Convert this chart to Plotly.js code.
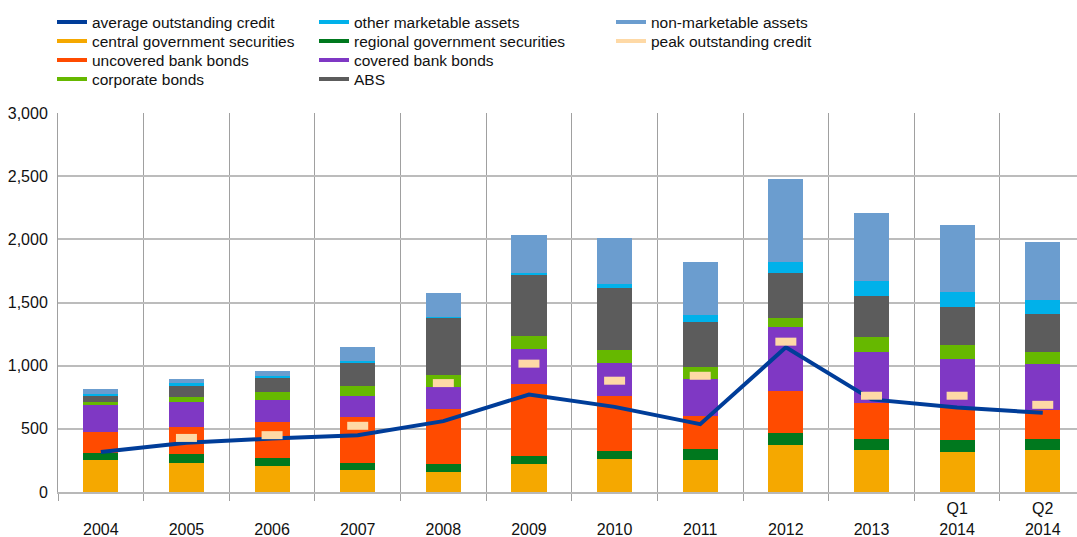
<!DOCTYPE html>
<html>
<head>
<meta charset="utf-8">
<script src="https://cdn.plot.ly/plotly-3.0.1.min.js"></script>
<style>
  html, body { margin: 0; padding: 0; background: #fff; overflow: hidden; }
  #chart { width: 1077px; height: 537px; }
</style>
</head>
<body>
<div id="chart"></div>
<script>
// ---- data (EUR billions) ----
const categories = ['2004','2005','2006','2007','2008','2009','2010','2011','2012','2013','Q1 2014','Q2 2014'];
const tickLabels = ['2004','2005','2006','2007','2008','2009','2010','2011','2012','2013','Q1<br>2014','Q2<br>2014'];

const centralGov   = [251, 227, 204, 172, 156, 220, 259, 251, 370, 331, 315, 331];
const regionalGov  = [ 58,  72,  63,  55,  64,  63,  64,  88,  96,  87,  95,  87];
const uncoveredBB  = [164, 214, 286, 365, 436, 571, 436, 261, 333, 286, 262, 230];
const coveredBB    = [215, 201, 174, 167, 175, 278, 262, 294, 508, 404, 381, 365];
const corporate    = [ 23,  37,  64,  79,  95, 103, 103,  95,  71, 119, 111,  95];
const absValues    = [ 48,  87, 114, 183, 452, 484, 492, 357, 357, 326, 301, 302];
const otherMkt     = [ 16,  24,  15,  16,   8,  13,  32,  56,  87, 119, 119, 111];
const nonMkt       = [ 40,  32,  37, 111, 190, 305, 365, 420, 659, 539, 532, 460];
const avgCredit    = [317, 389, 423, 450, 561, 772, 674, 537, 1145, 733, 669, 627];
const peakCredit   = [null, 428, 450, 524, 862, 1016, 881, 920, 1190, 762, 762, 690];

const yTicks = [0, 500, 1000, 1500, 2000, 2500, 3000];

// ---- styles ----
const C = {
  avg: '#003d99', central: '#f5a800', regional: '#00781e', uncovered: '#ff4b00',
  covered: '#7f38c4', corporate: '#66b800', abs: '#5c5c5c', other: '#00b1ea',
  nonmkt: '#6b9dcf', peak: '#fed9a6'
};
const FONT = 'Liberation Sans, Arial, sans-serif';

const barSeries = [
  ['central government securities', centralGov, C.central],
  ['regional government securities', regionalGov, C.regional],
  ['uncovered bank bonds', uncoveredBB, C.uncovered],
  ['covered bank bonds', coveredBB, C.covered],
  ['corporate bonds', corporate, C.corporate],
  ['ABS', absValues, C.abs],
  ['other marketable assets', otherMkt, C.other],
  ['non-marketable assets', nonMkt, C.nonmkt]
];

const traces = barSeries.map(([name, vals, col]) => ({
  type: 'bar', name, x: categories, y: vals,
  marker: {color: col, line: {width: 0}}, showlegend: false, hoverinfo: 'skip'
}));

traces.push({
  type: 'scatter', mode: 'lines', name: 'average outstanding credit',
  x: categories, y: avgCredit, line: {color: C.avg, width: 4}, showlegend: false
});
traces.push({
  type: 'scatter', mode: 'markers', name: 'peak outstanding credit',
  x: categories, y: peakCredit, showlegend: false,
  marker: {symbol: 'line-ew', size: 15, color: C.peak, line: {color: C.peak, width: 8}}
});

// legend entries (line-style keys), placed in three columns
const legendItems = [
  ['average outstanding credit', C.avg, 0, 0],
  ['central government securities', C.central, 0, 1],
  ['uncovered bank bonds', C.uncovered, 0, 2],
  ['corporate bonds', C.corporate, 0, 3],
  ['other marketable assets', C.other, 1, 0],
  ['regional government securities', C.regional, 1, 1],
  ['covered bank bonds', C.covered, 1, 2],
  ['ABS', C.abs, 1, 3],
  ['non-marketable assets', C.nonmkt, 2, 0],
  ['peak outstanding credit', C.peak, 2, 1]
];
const colX = [57, 319, 616];
const rowY = [22, 41, 60, 79];
const W = 1077, H = 537;

const layout = {
  width: W, height: H,
  margin: {l: 58, r: 0, t: 113, b: 45, pad: 0, autoexpand: false},
  paper_bgcolor: '#fff', plot_bgcolor: '#fff',
  font: {family: FONT, size: 16, color: '#111'},
  barmode: 'stack', bargap: 0.59,
  showlegend: true,
  xaxis: {
    type: 'category', range: [-0.5, 11.4], automargin: false,
    tickmode: 'array', tickvals: categories,
    ticktext: tickLabels.map(t => t.includes('<br>') ? t : '\u00a0<br>' + t),
    tickson: 'boundaries', ticks: 'outside', ticklen: 7, tickcolor: '#a0a0a0', tickwidth: 1,
    showgrid: true, gridcolor: '#a0a0a0', gridwidth: 1,
    showline: true, linecolor: '#b8b8b8', linewidth: 2,
    tickfont: {family: FONT, size: 16, color: '#111'},
    ticklabelstandoff: 1, fixedrange: true
  },
  yaxis: {
    range: [0, 3000], tickmode: 'array', tickvals: yTicks, automargin: false,
    ticktext: yTicks.map(v => v.toLocaleString('en-US')),
    showgrid: true, gridcolor: '#bcbcbc', gridwidth: 2, zeroline: false,
    showline: true, linecolor: '#a0a0a0', linewidth: 1,
    ticks: '', tickfont: {family: FONT, size: 16, color: '#111'},
    ticklabelstandoff: 6, fixedrange: true
  }
};

legendItems.forEach(([name, col, c, r], i) => {
  const key = i === 0 ? 'legend' : 'legend' + (i + 1);
  traces.push({
    type: 'scatter', mode: 'lines', name, x: [categories[0]], y: [null],
    line: {color: col, width: 4}, showlegend: true, legend: key, hoverinfo: 'skip'
  });
  layout[key] = {
    xref: 'container', yref: 'container',
    x: (colX[c] - 5) / W, xanchor: 'left',
    y: 1 - (rowY[r] - 16.6) / H, yanchor: 'top',
    bgcolor: 'rgba(0,0,0,0)', borderwidth: 0,
    font: {family: FONT, size: 15.5, color: '#111'}
  };
});

Plotly.newPlot('chart', traces, layout, {displayModeBar: false, staticPlot: true});
</script>
</body>
</html>
